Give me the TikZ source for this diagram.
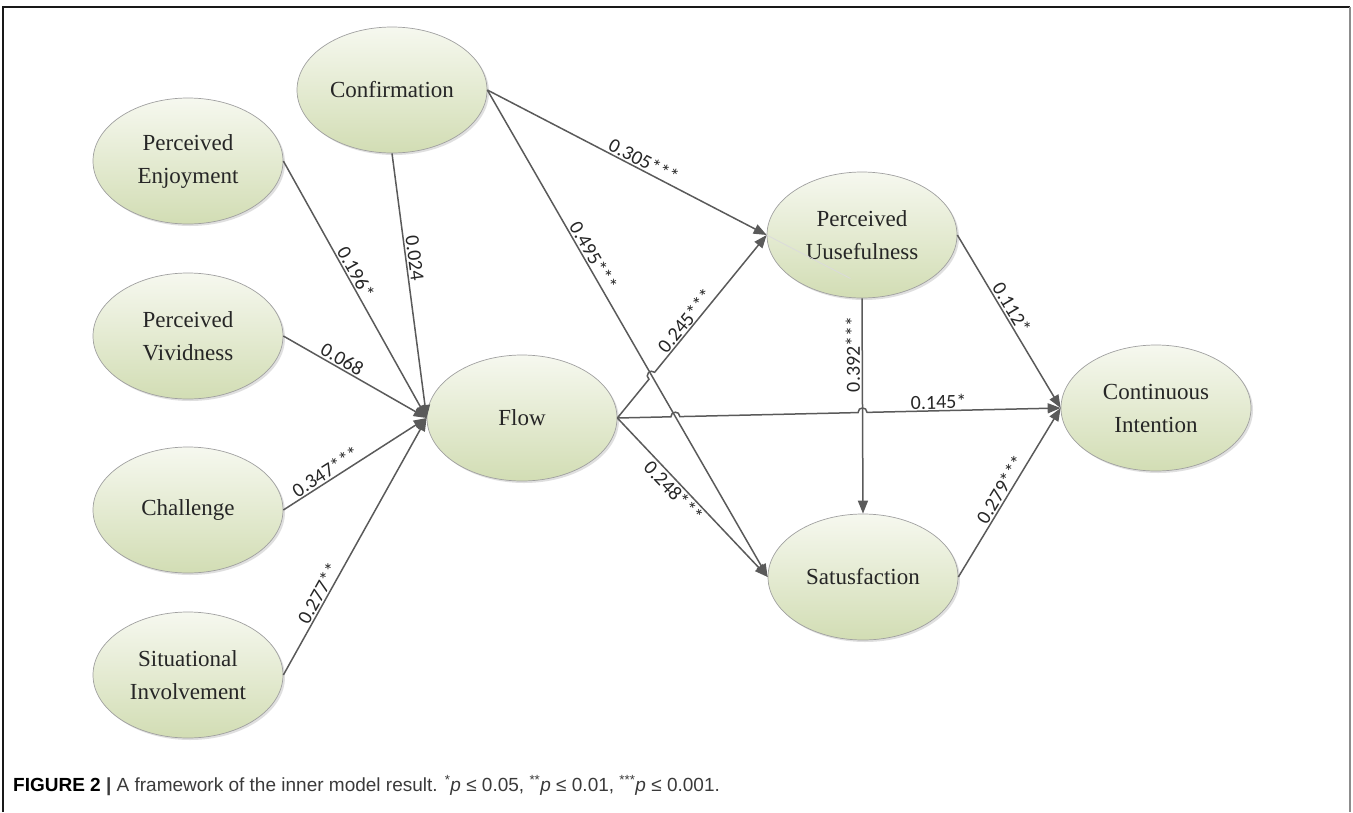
\documentclass[tikz,border=0pt]{standalone}
\usepackage{fontspec}
\setmainfont{Liberation Serif}
\newfontfamily\lblfont{Carlito}
\newfontfamily\capfont{Liberation Sans}
\usetikzlibrary{shapes.geometric,arrows.meta,calc,intersections,shadows}
\definecolor{ellTop}{HTML}{F6F8EF}
\definecolor{ellBot}{HTML}{D2DDB4}
\definecolor{ellBorder}{HTML}{A0A0A0}
\definecolor{connGray}{HTML}{5A5A5A}
\definecolor{txtDark}{HTML}{262626}
\definecolor{capGray}{HTML}{3A3A3A}
\begin{document}
\begin{tikzpicture}[x=1pt,y=-1pt,
  latent/.style={ellipse, draw=ellBorder, line width=0.7pt, top color=ellTop, bottom color=ellBot,
    minimum width=190pt, minimum height=126pt, inner sep=0pt, align=center,
    font=\fontsize{23}{33}\selectfont, text=txtDark,
    drop shadow={shadow xshift=2pt, shadow yshift=-2pt, fill=black!25, opacity=0.5}},
  conn/.style={draw=connGray, line width=1.5pt, -{Triangle[length=13pt,width=10pt]}},
  coef/.style={font=\lblfont\fontsize{20}{20}\selectfont, text=txtDark, sloped, inner sep=1.5pt},
]
\useasboundingbox (0,0) rectangle (1353,812);
% frame
\draw[black!90, line width=1.5pt] (3,812) -- (3,7) -- (1350,7);
\draw[black!45, line width=2pt] (1350,7) -- (1350,812);

% nodes
\node[latent] (conf) at (392,90) {Confirmation};
\node[latent] (pe) at (188,161) {Perceived\\Enjoyment};
\node[latent] (pv) at (188,336) {Perceived\\Vividness};
\node[latent] (ch) at (188,510) {Challenge};
\node[latent] (si) at (188,675) {Situational\\Involvement};
\node[latent] (flow) at (522,418) {Flow};
\node[latent] (pu) at (862,235) {Perceived\\Uusefulness};
\node[latent] (sat) at (863,577) {Satusfaction};
\node[latent] (ci) at (1156,408) {Continuous\\Intention};

% helper paths for hops
\path[name path=cs] (conf.east) -- (sat.west);
\path[name path=ps] (pu.south) -- (sat.north);
\path[name path=fci] (flow.east) -- (ci.west);
\path[name path=fpu] (flow.east) -- (pu.west);
\path[name intersections={of=fci and cs, by=h1}];
\path[name intersections={of=fci and ps, by=h2}];
\path[name intersections={of=fpu and cs, by=h3}];
\coordinate (h1a) at ($(h1)!4.5pt!(flow.east)$);
\coordinate (h1b) at ($(h1)!4.5pt!(ci.west)$);
\coordinate (h2a) at ($(h2)!4.5pt!(flow.east)$);
\coordinate (h2b) at ($(h2)!4.5pt!(ci.west)$);
\coordinate (h3a) at ($(h3)!4.5pt!(flow.east)$);
\coordinate (h3b) at ($(h3)!4.5pt!(pu.west)$);

% faint trace inside Perceived Uusefulness
\draw[connGray!22, line width=0.8pt] (pu.west) -- ($(conf.east)!1.3!(pu.west)$);

% connectors into Flow
\draw[conn] (pe.east) -- node[coef, above, pos=0.45] {0.196*} (flow.west);
\draw[conn] (conf.south) -- node[coef, above, pos=0.4] {0.024} (flow.west);
\draw[conn] (pv.east) -- node[coef, above, pos=0.38] {0.068} (flow.west);
\draw[conn] (ch.east) -- node[coef, above, pos=0.33] {0.347***} (flow.west);
\draw[conn] (si.east) -- node[coef, above, pos=0.3] {0.277**} (flow.west);

% confirmation outputs
\draw[conn] (conf.east) -- node[coef, above, pos=0.545] {0.305***} (pu.west);
\draw[conn] (conf.east) -- node[coef, above, pos=0.35] {0.495***} (sat.west);

% flow outputs
\draw[conn] (flow.east) -- (h3a)
  .. controls ($(h3a)!6pt!90:(h3)$) and ($(h3b)!6pt!-90:(h3)$) .. (h3b) -- (pu.west);
\path (flow.east) -- node[coef, above, pos=0.5] {0.245***} (pu.west);
\draw[conn] (flow.east) -- node[coef, below, pos=0.42] {0.248***} (sat.west);
\draw[conn] (flow.east) -- (h1a)
  .. controls ($(h1a)!6pt!90:(h1)$) and ($(h1b)!6pt!-90:(h1)$) .. (h1b) -- (h2a)
  .. controls ($(h2a)!6pt!90:(h2)$) and ($(h2b)!6pt!-90:(h2)$) .. (h2b) -- (ci.west);
\path (flow.east) -- node[coef, above, pos=0.725] {0.145*} (ci.west);

% PU and Sat outputs
\draw[conn] (pu.south) -- node[coef, above, pos=0.26, sloped=false, rotate=90] {0.392***} (sat.north);
\draw[conn] (pu.east) -- node[coef, above, pos=0.45] {0.112*} (ci.west);
\draw[conn] (sat.east) -- node[coef, above, pos=0.49] {0.279***} (ci.west);

% caption
\node[anchor=base west, inner sep=0pt, font=\capfont\fontsize{19}{22}\selectfont, text=capGray] (cap) at (13,791)
  {\textcolor{black}{\textbf{FIGURE 2}} \textbf{|} A framework of the inner model result. \textsuperscript{*}\textit{p} ≤ 0.05, \textsuperscript{**}\textit{p} ≤ 0.01, \textsuperscript{***}\textit{p} ≤ 0.001.};
\end{tikzpicture}
\end{document}
